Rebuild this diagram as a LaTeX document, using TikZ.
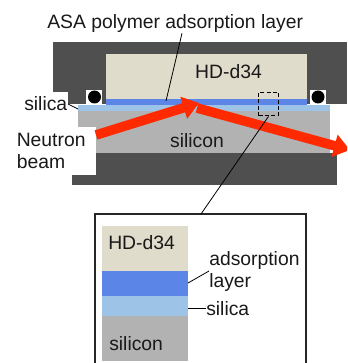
\documentclass[tikz,border=0pt]{standalone}
\usepackage{fontspec}
\setmainfont{Liberation Sans}
\usetikzlibrary{arrows.meta}
\definecolor{housing}{HTML}{4F4F4F}
\definecolor{hdfill}{HTML}{E0DCCB}
\definecolor{layerblue}{HTML}{5B86E8}
\definecolor{silicablue}{HTML}{9DC3E6}
\definecolor{silicongray}{HTML}{B2B2B2}
\definecolor{beamred}{HTML}{FF2A00}
\begin{document}
\begin{tikzpicture}[x=0.75pt, y=-0.75pt,
      every node/.style={align=left, inner sep=0pt, font=\fontsize{14.5pt}{16pt}\selectfont, text=black!90},
      leader/.style={draw=black, line width=0.6pt},
      beam/.style={draw=beamred, line width=7.2pt, -{Triangle[length=12pt, width=16.5pt]}}]
    \useasboundingbox (0,0) rectangle (347,363);
    \clip (0,0) rectangle (347,363);
    % cell
    \fill[housing] (53,42) rectangle (347,104);
    \fill[housing] (72,153) rectangle (337,185);
    \fill[white] (0,92) rectangle (68,127);
    \fill[white] (68,104) rectangle (78,127);
    \fill[white] (86,90) rectangle (102,104);
    \fill[white] (310,90) rectangle (326,104);
    \fill[hdfill] (105.5,54) rectangle (307,99);
    \fill[layerblue] (105.5,99) rectangle (307,105);
    \fill[silicablue] (78,105) rectangle (330,111);
    \fill[silicongray] (78,111) rectangle (330,153);
    \fill[white] (0,127) rectangle (96,175);
    \fill[black] (94.5,97) circle (6.5);
    \fill[black] (318,97) circle (6.5);
    % inset
    \draw[line width=1.1pt, draw=black!85] (95,363) -- (95,214) -- (306,214) -- (306,363);
    \fill[hdfill] (102,226) rectangle (188,271);
    \fill[layerblue] (102,271) rectangle (188,296);
    \fill[silicablue] (102,296) rectangle (188,315.5);
    \fill[silicongray] (102,315.5) rectangle (188,361);
    % beam
    \coordinate (beamin) at (96,135);
    \coordinate (beamtop) at (199,103);
    \coordinate (beamstart) at (197,108);
    \coordinate (beamout) at (350,150);
    \draw[beam] (beamin) -- (beamtop);
    \draw[beam] (beamstart) -- (beamout);
    % labels
    \node[anchor=base west] (asa) at (47,29) {ASA polymer adsorption layer};
    \node[anchor=base] (hd) at (228.5,79) {HD-d34};
    \node[anchor=base west] (silicaleft) at (24,111) {silica};
    \node[anchor=base west] (neutron) at (16.5,168) {Neutron\\beam};
    \node[anchor=base] (silicon) at (197,148) {silicon};
    \node[anchor=base west] (hdinset) at (108,249) {HD-d34};
    \node[anchor=base west] (adsorption) at (209,287) {adsorption\\layer};
    \node[anchor=base west] (silicainset) at (206,315) {silica};
    \node[anchor=base west] (siliconinset) at (109,350) {silicon};
    % zoom box
    \node[draw=black, dash pattern=on 3pt off 1.8pt, line width=1.1pt, minimum width=15pt, minimum height=17.5pt] (zoombox) at (268.5,104) {};
    \coordinate (insettop) at (201,214);
    \coordinate (asaend) at (166,101);
    \coordinate (silicastart) at (68,104);
    \coordinate (silicaend) at (78,109);
    \coordinate (layerend) at (188,283);
    \coordinate (silicastub) at (188,308);
    \draw[leader] (zoombox.south) -- (insettop);
    \draw[leader] (asa.south -| 182,0) -- (asaend);
    \draw[leader] (silicastart) -- (silicaend);
    \draw[leader] (adsorption.west |- 0,271) -- (layerend);
    \draw[leader] (silicastub) -- (silicainset.west |- silicastub);
\end{tikzpicture}
\end{document}
